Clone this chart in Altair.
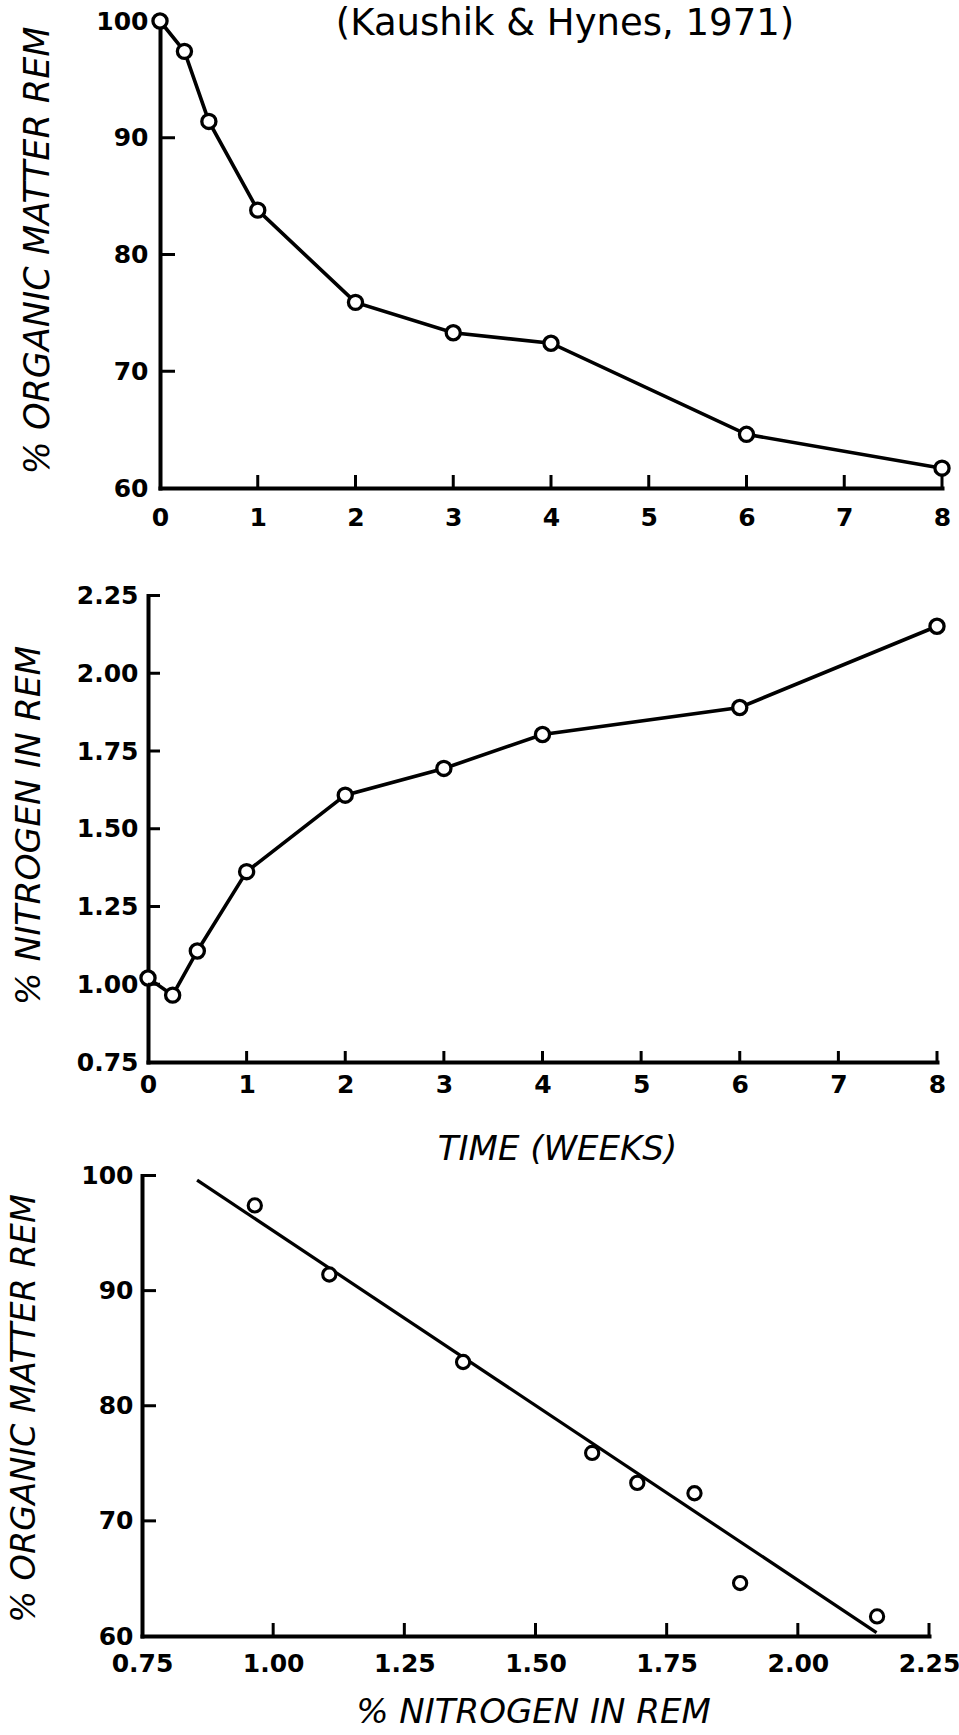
import altair as alt
import pandas as pd

# Decomposition of leaf litter (Kaushik & Hynes, 1971)
weeks = [0, 0.25, 0.5, 1, 2, 3, 4, 6, 8]
organic_matter = [100, 97.4, 91.4, 83.8, 75.9, 73.3, 72.4, 64.6, 61.7]
nitrogen = [1.02, 0.965, 1.107, 1.362, 1.608, 1.694, 1.803, 1.89, 2.151]

# fitted regression of organic matter on nitrogen (end points of the drawn line)
fit_nitrogen = [0.855, 2.15]
fit_organic = [99.6, 60.3]

# axis labels and inward tick positions
week_labels = [0, 1, 2, 3, 4, 5, 6, 7, 8]
week_ticks = [1, 2, 3, 4, 5, 6, 7, 8]
om_labels = [60, 70, 80, 90, 100]
om_ticks_top = [70, 80, 90]
om_ticks_bottom = [70, 80, 90, 100]
n_labels = [0.75, 1.00, 1.25, 1.50, 1.75, 2.00, 2.25]
n_ticks = [1.00, 1.25, 1.50, 1.75, 2.00, 2.25]

FONT = "DejaVu Sans"
INK = "black"
PAGE_W, PAGE_H = 959, 1730

# pixel frame of each panel: (left, right, top, bottom)
FRAME1 = (160, 942, 21, 488)
FRAME2 = (148, 937, 595.5, 1062)
FRAME3 = (142, 929, 1175.5, 1636)


def open_circles(df, x, y, size, sw):
    return alt.Chart(df).mark_point(
        shape="circle", filled=True, fill="white", stroke=INK,
        strokeWidth=sw, size=size, opacity=1
    ).encode(x=x, y=y)


def x_ticks(field, values, x, frame, length):
    bottom = frame[3]
    return alt.Chart(pd.DataFrame({field: values})).mark_rule(
        color=INK, strokeWidth=3
    ).encode(x=x, y=alt.value(bottom), y2=alt.value(bottom - length))


def y_ticks(field, values, y, frame, length):
    left = frame[0]
    return alt.Chart(pd.DataFrame({field: values})).mark_rule(
        color=INK, strokeWidth=3
    ).encode(y=y, x=alt.value(left), x2=alt.value(left + length))


def note(text, x, y, size, style="normal"):
    return alt.Chart(alt.Data(values=[{"k": 0}])).mark_text(
        text=text, font=FONT, fontSize=size, fontStyle=style,
        color=INK, align="center", baseline="middle"
    ).encode(x=alt.value(x), y=alt.value(y))


def x_axis(frame, values, fmt, pad, **title):
    return alt.Axis(values=values, format=fmt, labelPadding=pad, orient="bottom",
                    offset=frame[3] - PAGE_H, **title)


def y_axis(frame, values, fmt, pad, **title):
    return alt.Axis(values=values, format=fmt, labelPadding=pad, orient="left",
                    offset=-frame[0], titleAngle=270, titleAlign="center",
                    titleBaseline="middle", **title)


# ---------- panel 1: organic matter remaining over time ----------
df1 = pd.DataFrame({"week": weeks, "om": organic_matter})
x1 = alt.X("week:Q",
           scale=alt.Scale(domain=[0, 8], range=[FRAME1[0], FRAME1[1]], nice=False, zero=False),
           axis=x_axis(FRAME1, week_labels, "d", 17, title=None))
y1 = alt.Y("om:Q",
           scale=alt.Scale(domain=[60, 100], range=[FRAME1[3], FRAME1[2]], nice=False, zero=False),
           axis=y_axis(FRAME1, om_labels, "d", 12, title="% ORGANIC MATTER REM",
                       titleFontSize=35, titleX=-123, titleY=250))

panel1 = alt.layer(
    alt.Chart(df1).mark_line(color=INK, strokeWidth=3.6).encode(x=x1, y=y1),
    open_circles(df1, x1, y1, 200, 3.3),
    x_ticks("week", week_ticks, x1, FRAME1, 13),
    y_ticks("om", om_ticks_top, y1, FRAME1, 15),
    note("(Kaushik & Hynes, 1971)", 565, 24, 37),
)

# ---------- panel 2: nitrogen content over time ----------
df2 = pd.DataFrame({"week": weeks, "n": nitrogen})
x2 = alt.X("week:Q",
           scale=alt.Scale(domain=[0, 8], range=[FRAME2[0], FRAME2[1]], nice=False, zero=False),
           axis=x_axis(FRAME2, week_labels, "d", 10, title=None))
y2 = alt.Y("n:Q",
           scale=alt.Scale(domain=[0.75, 2.25], range=[FRAME2[3], FRAME2[2]], nice=False, zero=False),
           axis=y_axis(FRAME2, n_labels, ".2f", 10, title="% NITROGEN IN REM",
                       titleFontSize=34.5, titleX=-118.5, titleY=825))

panel2 = alt.layer(
    alt.Chart(df2).mark_line(color=INK, strokeWidth=3.6).encode(x=x2, y=y2),
    open_circles(df2, x2, y2, 200, 3.3),
    x_ticks("week", week_ticks, x2, FRAME2, 11),
    y_ticks("n", n_ticks, y2, FRAME2, 12),
    note("TIME  (WEEKS)", 557.5, 1150, 34, "italic"),
)

# ---------- panel 3: organic matter against nitrogen ----------
df3 = pd.DataFrame({"n": nitrogen[1:], "om": organic_matter[1:]})
df_fit = pd.DataFrame({"n": fit_nitrogen, "om": fit_organic})
x3 = alt.X("n:Q",
           scale=alt.Scale(domain=[0.75, 2.25], range=[FRAME3[0], FRAME3[1]], nice=False, zero=False),
           axis=x_axis(FRAME3, n_labels, ".2f", 15, title="% NITROGEN IN REM",
                       titleFontSize=34, titleX=533, titleY=76, titleAngle=0,
                       titleAlign="center", titleBaseline="middle"))
y3 = alt.Y("om:Q",
           scale=alt.Scale(domain=[60, 100], range=[FRAME3[3], FRAME3[2]], nice=False, zero=False),
           axis=y_axis(FRAME3, om_labels, "d", 9, title="% ORGANIC MATTER REM",
                       titleFontSize=33.5, titleX=-118, titleY=1408))

panel3 = alt.layer(
    alt.Chart(df_fit).mark_line(color=INK, strokeWidth=3.2).encode(x=x3, y=y3),
    open_circles(df3, x3, y3, 175, 3.1),
    x_ticks("n", n_ticks, x3, FRAME3, 13),
    y_ticks("om", om_ticks_bottom, y3, FRAME3, 14),
)

chart = alt.layer(panel1, panel2, panel3).resolve_scale(
    x="independent", y="independent"
).resolve_axis(
    x="independent", y="independent"
).properties(
    width=PAGE_W, height=PAGE_H, padding=0, background="white",
    autosize=alt.AutoSizeParams(type="none"),
).configure_view(
    strokeWidth=0
).configure_axis(
    labelFont=FONT, labelFontSize=25, labelFontWeight="bold", labelColor=INK,
    titleFont=FONT, titleFontStyle="italic", titleFontWeight="normal", titleColor=INK,
    domainColor=INK, domainWidth=4, domainCap="square",
    ticks=False, tickSize=0, grid=False,
    labelFlush=False, labelOverlap=False,
)

chart.save("out.html", embed_options={"renderer": "svg", "actions": False})
